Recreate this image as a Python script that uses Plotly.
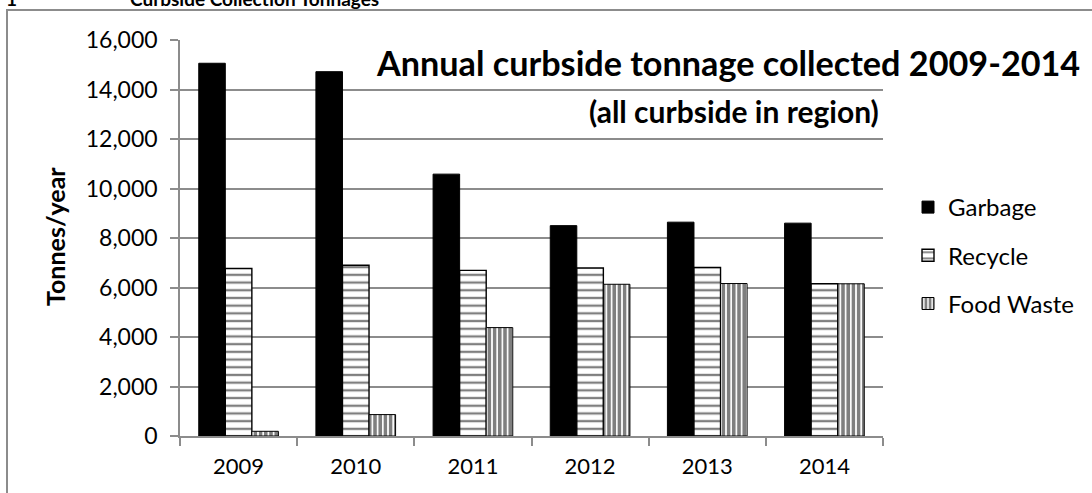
import plotly.graph_objects as go

years = ["2009", "2010", "2011", "2012", "2013", "2014"]
garbage = [15060, 14720, 10580, 8500, 8640, 8600]
recycle = [6770, 6900, 6690, 6790, 6810, 6150]
food_waste = [190, 865, 4380, 6130, 6160, 6150]

FONT = "Lato, 'Open Sans', sans-serif"
L, T, R, B = 180, 40, 883, 436
W, H = 1092, 493
pw, ph = R - L, B - T


def px(x):
    return (x - L) / pw


def py(y):
    return (B - y) / ph


fig = go.Figure()
fig.add_trace(go.Bar(
    x=years, y=garbage, name="Garbage", legendgroup="g",
    marker=dict(color="black", line=dict(color="black", width=1)),
))
fig.add_trace(go.Bar(
    x=years, y=recycle, name="Recycle", legendgroup="r",
    marker=dict(color="white", line=dict(color="black", width=1.4),
                pattern=dict(shape="-", size=7.7, solidity=0.3,
                             fgcolor="black", bgcolor="white", fillmode="overlay")),
))
fig.add_trace(go.Bar(
    x=years, y=food_waste, name="Food Waste", legendgroup="f",
    marker=dict(color="white", line=dict(color="black", width=1),
                pattern=dict(shape="|", size=5.2, solidity=0.68,
                             fgcolor="black", bgcolor="white", fillmode="overlay")),
))

fig.update_layout(
    width=W, height=H,
    margin=dict(l=L, r=W - R, t=T, b=H - B, pad=0),
    paper_bgcolor="white", plot_bgcolor="white",
    barmode="group", bargap=0.32, bargroupgap=0,
    font=dict(family=FONT, size=22, color="black"),
    showlegend=True,
    legend=dict(x=px(908), y=py(185), xanchor="left", yanchor="top",
                font=dict(size=24), tracegroupgap=14,
                bgcolor="rgba(0,0,0,0)", itemwidth=30),
    xaxis=dict(type="category", showline=True, linecolor="#8c8c8c", linewidth=1.5,
               ticks="outside", tickson="boundaries", ticklen=8, tickcolor="#8c8c8c",
               tickwidth=1.5, showgrid=False, tickfont=dict(size=22),
               ticklabelstandoff=10),
    yaxis=dict(range=[0, 16000], dtick=2000, tickformat=",", showline=True,
               linecolor="#8c8c8c", linewidth=1.5, ticks="outside", ticklen=8,
               tickcolor="#8c8c8c", tickwidth=1.5, showgrid=True,
               gridcolor="#8c8c8c", gridwidth=1.5, zeroline=False,
               tickfont=dict(size=23), ticklabelstandoff=8),
)

fig.add_shape(type="rect", xref="paper", yref="paper",
              x0=px(7), x1=px(1110), y0=py(10), y1=py(510),
              line=dict(color="#8c8c8c", width=2), fillcolor="rgba(0,0,0,0)", layer="below")

fig.add_annotation(text="<b>Annual curbside tonnage collected 2009-2014</b>",
                   xref="paper", yref="paper", x=px(1082), y=py(63),
                   xanchor="right", yanchor="middle", showarrow=False,
                   font=dict(size=34.2, family=FONT))
fig.add_annotation(text="<b>(all curbside in region)</b>",
                   xref="paper", yref="paper", x=px(881), y=py(111),
                   xanchor="right", yanchor="middle", showarrow=False,
                   font=dict(size=30, family=FONT))
fig.add_annotation(text="<b>Tonnes/year</b>", textangle=-90,
                   xref="paper", yref="paper", x=px(55), y=py(237),
                   xanchor="center", yanchor="middle", showarrow=False,
                   font=dict(size=25, family=FONT))
fig.add_annotation(text="<b>1</b>", xref="paper", yref="paper",
                   x=px(4), y=py(-2), xanchor="left", yanchor="middle",
                   showarrow=False, font=dict(size=19, family=FONT))
fig.add_annotation(text="<b>Curbside Collection Tonnages</b>", xref="paper", yref="paper",
                   x=px(128), y=py(-2), xanchor="left", yanchor="middle",
                   showarrow=False, font=dict(size=19, family=FONT))

fig.write_html("out.html")
